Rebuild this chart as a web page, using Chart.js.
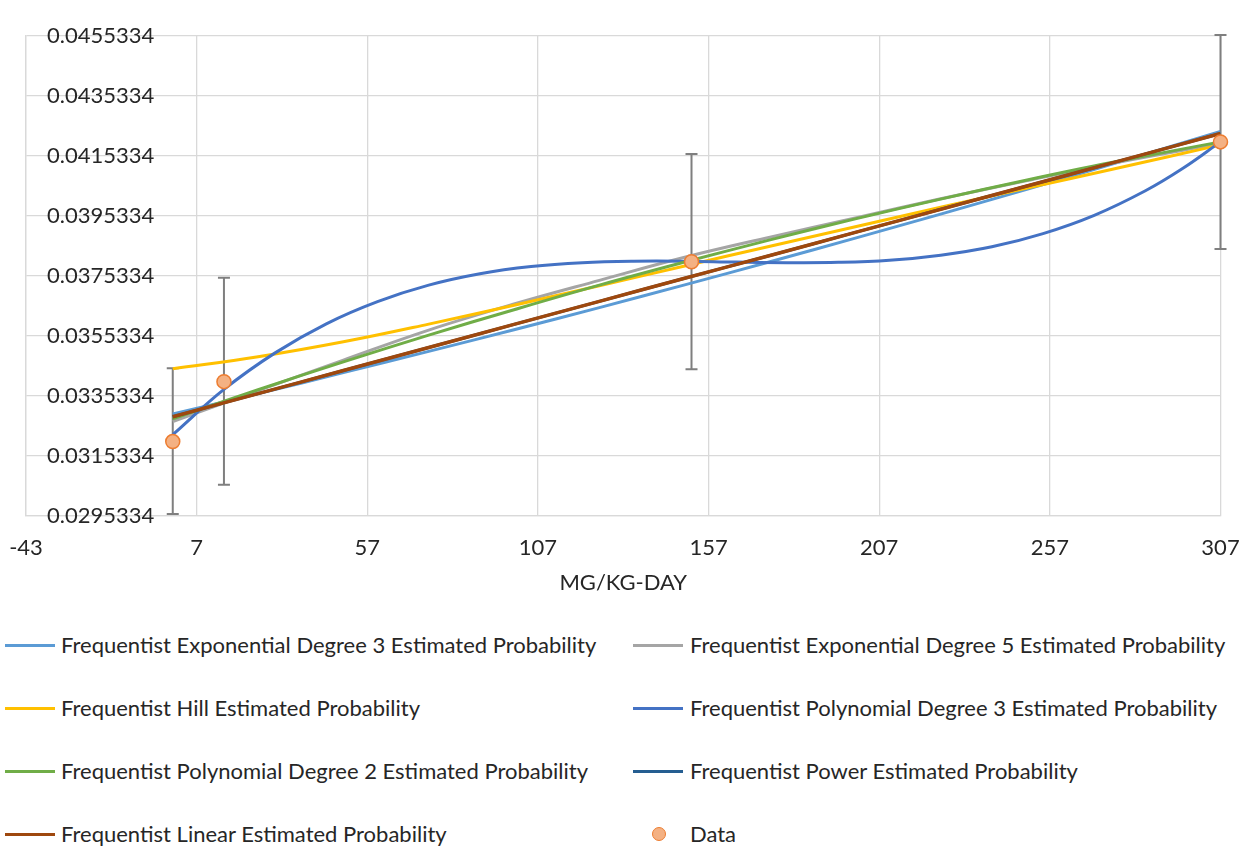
<!DOCTYPE html>
<html>
<head>
<meta charset="utf-8">
<script src="https://cdn.jsdelivr.net/npm/chart.js@4.4.1/dist/chart.umd.min.js"></script>
<style>
  html, body { margin: 0; padding: 0; background: #fff; }
  body { width: 1253px; height: 850px; position: relative; overflow: hidden; font-family: Lato, "Liberation Sans", sans-serif; }
  #wrap { position: absolute; left: 0; top: 0; width: 1253px; height: 600px; }
  #legend { position: absolute; left: 0; top: 614px; width: 1253px; display: grid; grid-template-columns: 627px 626px; grid-auto-rows: 63px; }
  .item { position: relative; height: 63px; color: #262626; font-size: 22px; }
  .item .swatch { position: absolute; top: 30px; height: 3px; width: 50px; }
  .item .dot { position: absolute; top: 24px; width: 12px; height: 12px; border-radius: 50%; }
  .item span { position: absolute; top: 18px; white-space: nowrap; line-height: 26px; }
</style>
</head>
<body>
<div id="wrap"><canvas id="chart"></canvas></div>
<div id="legend"></div>
<script>
// x positions (mg/kg-day)
const curveDoses = [0, 25, 50, 75, 100, 125, 150, 175, 200, 225, 250, 275, 307];
const poly3Doses = [0, 15, 30, 45, 60, 75, 90, 105, 120, 135, 150, 165, 180, 195, 210, 225, 240, 255, 270, 285, 296, 307];

// model curves
const exp3 = [0.03292, 0.03360, 0.03430, 0.03501, 0.03573, 0.03647, 0.03723, 0.03800, 0.03879, 0.03959, 0.04041, 0.04125, 0.04235];
const exp5 = [0.03267, 0.03370, 0.03472, 0.03572, 0.03659, 0.03738, 0.03815, 0.03882, 0.03946, 0.04010, 0.04070, 0.04128, 0.04195];
const hill = [0.03443, 0.03483, 0.03533, 0.03592, 0.03655, 0.03720, 0.03786, 0.03852, 0.03917, 0.03982, 0.04045, 0.04108, 0.04190];
const poly3 = [0.03223, 0.03374, 0.03496, 0.03593, 0.03667, 0.03722, 0.03760, 0.03784, 0.03797, 0.03802, 0.03802, 0.03799, 0.03797, 0.03798, 0.03805, 0.03822, 0.03850, 0.03894, 0.03955, 0.04037, 0.04112, 0.04200];
const poly2 = [0.03276, 0.03373, 0.03466, 0.03555, 0.03640, 0.03722, 0.03799, 0.03873, 0.03943, 0.04009, 0.04072, 0.04131, 0.04200];
const power = [0.03283, 0.03360, 0.03437, 0.03514, 0.03591, 0.03668, 0.03745, 0.03821, 0.03898, 0.03975, 0.04052, 0.04129, 0.04228];
const linear = [0.03283, 0.03360, 0.03437, 0.03514, 0.03591, 0.03668, 0.03745, 0.03821, 0.03898, 0.03975, 0.04052, 0.04129, 0.04228];

// observed data with error bars
const dataDoses = [0, 15, 152, 307];
const dataValues = [0.0320, 0.0340, 0.0380, 0.0420];
const errLower = [0.02958, 0.03056, 0.03441, 0.03843];
const errUpper = [0.03445, 0.03747, 0.04160, 0.04557];

// tick labels
const xTicks = [-43, 7, 57, 107, 157, 207, 257, 307];
const yTicks = [0.0295334, 0.0315334, 0.0335334, 0.0355334, 0.0375334, 0.0395334, 0.0415334, 0.0435334, 0.0455334];

const toPoints = (xs, ys) => xs.map((x, i) => ({ x: x, y: ys[i] }));

const lineSet = (label, xs, ys, color, order, width) => ({
  type: 'line',
  label: label,
  data: toPoints(xs, ys),
  borderColor: color,
  backgroundColor: color,
  borderWidth: width || 3,
  pointRadius: 0,
  tension: 0.4,
  fill: false,
  order: order
});

const datasets = [
  lineSet('Frequentist Exponential Degree 3 Estimated Probability', curveDoses, exp3, '#5B9BD5', 8),
  lineSet('Frequentist Exponential Degree 5 Estimated Probability', curveDoses, exp5, '#A5A5A5', 7),
  lineSet('Frequentist Hill Estimated Probability', curveDoses, hill, '#FFC000', 6),
  lineSet('Frequentist Polynomial Degree 3 Estimated Probability', poly3Doses, poly3, '#4472C4', 5),
  lineSet('Frequentist Polynomial Degree 2 Estimated Probability', curveDoses, poly2, '#70AD47', 4),
  lineSet('Frequentist Power Estimated Probability', curveDoses, power, '#255E91', 3),
  lineSet('Frequentist Linear Estimated Probability', curveDoses, linear, '#9E480E', 2, 3.5),
  {
    type: 'scatter',
    label: 'Data',
    data: toPoints(dataDoses, dataValues),
    backgroundColor: '#F4B183',
    borderColor: '#ED7D31',
    borderWidth: 1.5,
    pointRadius: 7,
    clip: false,
    order: 0
  }
];

// draws the error bars of the Data series before the markers
const errorBars = {
  id: 'errorBars',
  beforeDatasetsDraw(chart) {
    const { ctx, scales: { x, y } } = chart;
    ctx.save();
    ctx.strokeStyle = '#7F7F7F';
    ctx.lineWidth = 2;
    dataDoses.forEach((d, i) => {
      const px = x.getPixelForValue(d);
      const lo = y.getPixelForValue(errLower[i]);
      const hi = y.getPixelForValue(errUpper[i]);
      ctx.beginPath();
      ctx.moveTo(px, lo); ctx.lineTo(px, hi);
      ctx.moveTo(px - 6, lo); ctx.lineTo(px + 6, lo);
      ctx.moveTo(px - 6, hi); ctx.lineTo(px + 6, hi);
      ctx.stroke();
    });
    ctx.restore();
  }
};

const tickFont = { family: 'Lato, "Liberation Sans", sans-serif', size: 22 };

new Chart(document.getElementById('chart'), {
  data: { datasets: datasets },
  plugins: [errorBars],
  options: {
    responsive: true,
    maintainAspectRatio: false,
    animation: false,
    layout: { padding: { left: 26, right: 32.5, top: 36, bottom: 4 } },
    plugins: {
      legend: { display: false },
      tooltip: { enabled: false }
    },
    scales: {
      x: {
        type: 'linear',
        min: -43,
        max: 307,
        afterBuildTicks: axis => { axis.ticks = xTicks.map(v => ({ value: v })); },
        afterFit: axis => { axis.height = 80.5; axis.paddingLeft = 0; axis.paddingRight = 0; },
        grid: { color: '#D9D9D9', lineWidth: 1.3, drawTicks: false },
        border: { color: '#D9D9D9', width: 1.3 },
        ticks: { color: '#262626', font: tickFont, padding: 19, maxRotation: 0, callback: v => String(v) },
        title: { display: true, text: 'MG/KG-DAY', color: '#262626', font: tickFont, padding: { top: 8, bottom: 0 } }
      },
      y: {
        type: 'linear',
        min: 0.0295334,
        max: 0.0455334,
        afterBuildTicks: axis => { axis.ticks = yTicks.map(v => ({ value: v })); },
        afterFit: axis => { axis.width = 0; axis.paddingTop = 0; axis.paddingBottom = 0; },
        grid: { color: '#D9D9D9', lineWidth: 1.3, drawTicks: false },
        border: { color: '#D9D9D9', width: 1.3 },
        ticks: { color: '#262626', font: tickFont, mirror: true, padding: 21, callback: v => v.toFixed(7) }
      }
    }
  }
});

// legend in two columns, like the original
const legendEl = document.getElementById('legend');
datasets.forEach(ds => {
  const item = document.createElement('div');
  item.className = 'item';
  const col = legendEl.children.length % 2;
  const markLeft = col === 0 ? 5 : 6;
  const textLeft = col === 0 ? 61 : 63;
  if (ds.type === 'scatter') {
    const dot = document.createElement('div');
    dot.className = 'dot';
    dot.style.left = (markLeft + 19) + 'px';
    dot.style.background = ds.backgroundColor;
    dot.style.border = '1.5px solid ' + ds.borderColor;
    item.appendChild(dot);
  } else {
    const sw = document.createElement('div');
    sw.className = 'swatch';
    sw.style.left = markLeft + 'px';
    sw.style.background = ds.borderColor;
    item.appendChild(sw);
  }
  const label = document.createElement('span');
  label.style.left = textLeft + 'px';
  label.textContent = ds.label;
  item.appendChild(label);
  legendEl.appendChild(item);
});
</script>
</body>
</html>
